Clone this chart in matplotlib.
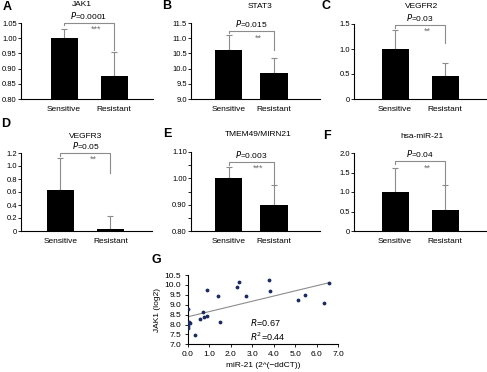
import numpy as np
import matplotlib.pyplot as plt
from matplotlib.ticker import FormatStrFormatter, MultipleLocator

plt.rcParams['font.family'] = ['Liberation Sans', 'DejaVu Sans']
plt.rcParams['font.size'] = 6

groups = ['Sensitive', 'Resistant']

# bar panels: title, means, upper errors, p text, stars
titles = ['JAK1', 'STAT3', 'VEGFR2', 'VEGFR3', 'TMEM49/MIRN21', 'hsa-miR-21']
letters = ['A', 'B', 'C', 'D', 'E', 'F']
means = [[1.00, 0.877], [10.62, 9.84], [1.00, 0.47],
         [0.63, 0.035], [1.00, 0.90], [1.00, 0.54]]
errs = [[0.031, 0.078], [0.50, 0.50], [0.38, 0.26],
        [0.50, 0.20], [0.044, 0.074], [0.61, 0.63]]
pvals = ['0.0001', '0.015', '0.03', '0.05', '0.003', '0.04']
stars = ['***', '**', '**', '**', '***', '**']
# bracket: height, left tick end, right tick end
brackets = [[1.05, 1.042, 0.96], [11.23, 11.17, 10.62], [1.48, 1.43, 1.115],
            [1.2, 1.16, 0.89], [1.062, 1.052, 0.973], [1.785, 1.725, 1.17]]
ylims = [(0.80, 1.05), (9.0, 11.5), (0, 1.5), (0, 1.2), (0.80, 1.10), (0, 2.0)]
yticks = [np.arange(0.80, 1.051, 0.05), np.arange(9.0, 11.51, 0.5),
          [0, 0.5, 1.0, 1.5], [0, 0.2, 0.4, 0.6, 0.8, 1.0, 1.2],
          [0.80, 0.90, 1.00, 1.10], [0, 0.5, 1.0, 1.5, 2.0]]
yticklabels = [['0.80', '0.85', '0.90', '0.95', '1.00', '1.05'],
               ['9.0', '9.5', '10.0', '10.5', '11.0', '11.5'],
               ['0', '0.5', '1.0', '1.5'],
               ['0', '0.2', '0.4', '0.6', '0.8', '1.0', '1.2'],
               ['0.80', '0.90', '1.00', '1.10'],
               ['0', '0.5', '1.0', '1.5', '2.0']]

# scatter panel G
mir21 = [0.02, 0.02, 0.03, 0.06, 0.12, 0.34, 0.56, 0.71, 0.74, 0.88, 0.91,
         1.40, 1.50, 2.28, 2.39, 2.71, 3.80, 3.84, 5.14, 5.46, 6.34, 6.57]
jak1 = [8.77, 7.81, 7.94, 8.11, 8.06, 7.45, 8.29, 8.65, 8.36, 9.72, 8.41,
        9.45, 8.13, 9.90, 10.15, 9.45, 10.27, 9.70, 9.22, 9.50, 9.10, 10.12]

W, H = 487, 372
fig = plt.figure(figsize=(W / 100, H / 100), dpi=100)


def px_axes(l, t, r, b):
    return fig.add_axes([l / W, 1 - b / H, (r - l) / W, (b - t) / H])


boxes = [(21, 23, 153, 99), (191, 23, 320, 99), (354, 24, 486, 99),
         (21, 153, 152, 231), (191, 152, 320, 231), (354, 153, 486, 231)]
xlims = [(-0.86, 1.78), (-0.84, 2.02), (-0.82, 1.82),
         (-0.79, 1.83), (-0.84, 2.02), (-0.82, 1.82)]
widths = [0.54, 0.6, 0.54, 0.54, 0.6, 0.54]
letter_pos = [(3, 7), (162, 6), (322, 6), (1, 124), (163, 134), (323, 136)]
title_pos = [(82, 5), (260, 7), (422, 7), (86, 136), (258, 135), (422, 137)]

grey = '#8c8c8c'
for i in range(6):
    ax = px_axes(*boxes[i])
    lo = ylims[i][0]
    x = np.arange(2)
    ax.bar(x, np.array(means[i]) - lo, bottom=lo, width=widths[i],
           color='black', zorder=2)
    ax.errorbar(x, means[i], yerr=[[0, 0], errs[i]], fmt='none',
                ecolor=grey, elinewidth=0.8, capsize=2.5, capthick=0.8, zorder=1)
    by, bl, br = brackets[i]
    ax.plot([0, 0, 1, 1], [bl, by, by, br], color=grey, lw=0.8, clip_on=False)
    ax.annotate('$P$=' + pvals[i], xy=(0.5, by), xytext=(0, 1.5),
                textcoords='offset points', ha='center', va='bottom', fontsize=6)
    ax.annotate(stars[i], xy=(0.65, by), xytext=(0, -1.5),
                textcoords='offset points', ha='center', va='top',
                fontsize=6.5, color='#707070')
    ax.set_xlim(*xlims[i])
    ax.set_ylim(*ylims[i])
    ax.set_yticks(yticks[i])
    ax.set_yticklabels(yticklabels[i], fontsize=5.5)
    if i == 4:
        ax.yaxis.set_minor_locator(MultipleLocator(0.05))
    ax.set_xticks(x)
    ax.set_xticklabels(groups)
    ax.tick_params(axis='x', length=0, pad=5)
    ax.tick_params(axis='y', which='both', length=2, width=0.6, pad=1)
    for s in ['top', 'right']:
        ax.spines[s].set_visible(False)
    for s in ['left', 'bottom']:
        ax.spines[s].set_linewidth(0.8)
    fig.text(letter_pos[i][0] / W, 1 - letter_pos[i][1] / H, letters[i],
             fontsize=9, fontweight='bold', va='center', ha='left')
    fig.text(title_pos[i][0] / W, 1 - title_pos[i][1] / H, titles[i],
             fontsize=6, va='center', ha='center')

# panel G
ax = px_axes(187.7, 275, 338.3, 344.3)
ax.scatter(mir21, jak1, s=3, color='#1c2a5c', zorder=3)
k, c = np.polyfit(mir21, jak1, 1)
xx = np.array([0, max(mir21)])
ax.plot(xx, k * xx + c, color=grey, lw=0.8)
ax.set_xlim(0, 7)
ax.set_ylim(7, 10.5)
ax.set_xticks(np.arange(0, 7.01, 1))
ax.set_yticks(np.arange(7, 10.51, 0.5))
ax.xaxis.set_major_formatter(FormatStrFormatter('%.1f'))
ax.yaxis.set_major_formatter(FormatStrFormatter('%.1f'))
ax.tick_params(length=2.5, width=0.6, pad=2)
for s in ['top', 'right']:
    ax.spines[s].set_visible(False)
for s in ['left', 'bottom']:
    ax.spines[s].set_linewidth(0.8)
ax.set_xlabel('miR-21 (2^(\u2212ddCT))', fontsize=6, labelpad=3)
ax.set_ylabel('JAK1 (log2)', fontsize=6, labelpad=3)
ax.text(2.9, 8.1, '$R$=0.67', fontsize=6.5, ha='left', va='center')
ax.text(2.9, 7.4, '$R^2$=0.44', fontsize=6.5, ha='left', va='center')
fig.text(152 / W, 1 - 260 / H, 'G', fontsize=9, fontweight='bold',
         va='center', ha='left')

fig.savefig('out.png', dpi=100)
